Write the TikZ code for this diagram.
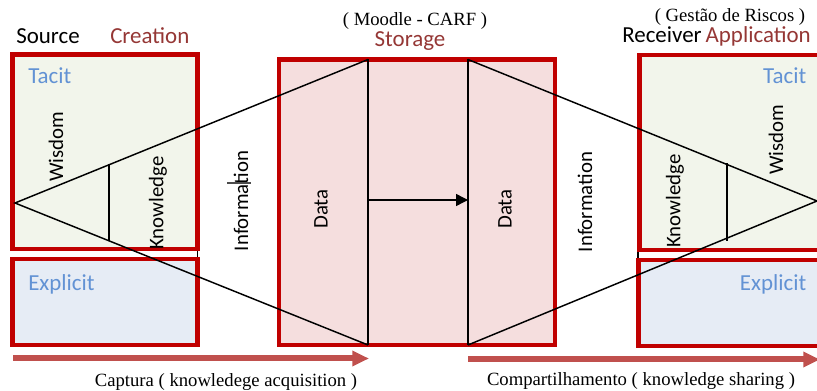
\documentclass[tikz,border=0pt]{standalone}
\usepackage{fontspec}
\setmainfont{Carlito}
\newfontfamily\romanface{Liberation Serif}
\usetikzlibrary{arrows.meta}

\definecolor{boxred}{RGB}{192,0,0}
\definecolor{tacitfill}{RGB}{242,245,235}
\definecolor{explfill}{RGB}{230,236,245}
\definecolor{storefill}{RGB}{245,222,222}
\definecolor{headred}{RGB}{149,55,53}
\definecolor{kindblue}{RGB}{98,146,212}
\definecolor{flowred}{RGB}{192,80,77}

\tikzset{
  frame/.style={draw=boxred, line width=3.6pt},
  pyr/.style={draw=black, line width=1.1pt},
  lbl/.style={font=\fontsize{17.2}{20}\selectfont, inner sep=0pt},
  head/.style={lbl, text=headred},
  kind/.style={lbl, text=kindblue},
  layer/.style={font=\fontsize{15.6}{18}\selectfont, inner sep=0pt, rotate=90},
  caption/.style={font=\romanface\fontsize{14}{16}\selectfont, inner sep=0pt},
  flow/.style={draw=flowred, line width=4.5pt, -{Triangle[length=12.5pt,width=11pt]}},
}

\begin{document}
\begin{tikzpicture}[x=0.75pt,y=-0.75pt]
\useasboundingbox (0,0) rectangle (817,391);
\clip (0,0) rectangle (817,391);

% knowledge boxes (source side)
\draw[frame, fill=tacitfill] (12.5,54.5) rectangle (197.5,249);
\draw[frame, fill=explfill] (12.5,259) rectangle (197.5,345);
% storage
\draw[frame, fill=storefill] (279,59.5) rectangle (555,345);
% knowledge boxes (receiver side)
\draw[frame, fill=tacitfill] (639.5,55) rectangle (840,250);
\draw[frame, fill=explfill] (638.5,260) rectangle (840,346);

% key points of the two pyramids
\coordinate (apexL) at (15,203);
\coordinate (apexR) at (817,201);
\coordinate (st1) at (368,59.5);
\coordinate (sb1) at (368,345);
\coordinate (st2) at (468,59.5);
\coordinate (sb2) at (468,345);
\coordinate (kLt) at (109,164.5);
\coordinate (kLb) at (109,241.5);
\coordinate (kRt) at (727,163.5);
\coordinate (kRb) at (727,241.5);

\draw[pyr] (st1) -- (apexL) -- (sb1);
\draw[pyr] (st2) -- (apexR) -- (sb2);
\draw[pyr] (st1) -- (sb1);
\draw[pyr] (st2) -- (sb2);
\draw[pyr] (kLt) -- (kLb);
\draw[pyr] (kRt) -- (kRb);

% transfer inside the repository
\coordinate (trA) at (368,200);
\coordinate (trB) at (468,200);
\draw[pyr, -{Triangle[length=9pt,width=9pt]}] (trA) -- (trB);

% short joints between tacit and explicit boxes
\coordinate (jL1) at (197.5,251);
\coordinate (jL2) at (197.5,257);
\coordinate (jR1) at (638,252);
\coordinate (jR2) at (638,258);
\draw[black, line width=0.8pt] (jL1) -- (jL2);
\draw[black, line width=0.8pt] (jR1) -- (jR2);

% headings
\node[lbl, anchor=base west] (source) at (16,44) {Source};
\node[head, anchor=base west] (creation) at (110,44) {Creation};
\node[caption, anchor=base] (moodle) at (415,26) {( Moodle - CARF )};
\node[head, anchor=base] (storage) at (410,47) {Storage};
\node[caption, anchor=base] (gestao) at (730,21.5) {( Gestão de Riscos )};
\node[lbl, anchor=base west] (receiver) at (622,42.5) {Receiver};
\node[head, anchor=base east] (application) at (811,42.5) {Application};

% box labels
\node[kind, anchor=base west] (tacitL) at (28,84) {Tacit};
\node[kind, anchor=base west] (explL) at (28,290.5) {Explicit};
\node[kind, anchor=base east] (tacitR) at (806.5,84) {Tacit};
\node[kind, anchor=base east] (explR) at (806.5,290.5) {Explicit};

% pyramid layers
\node[layer] (wisL) at (56,147) {Wisdom};
\node[layer] (knoL) at (158,203) {Knowledge};
\node[layer] (infL) at (241,201) {Information};
\node[layer] (datL) at (321,209) {Data};
\node[layer] (datR) at (505,209) {Data};
\node[layer] (infR) at (585,202) {Information};
\node[layer] (knoR) at (675,201) {Knowledge};
\node[layer] (wisR) at (776,140) {Wisdom};

% stray mark across the left Information label
\coordinate (mk1) at (227,183);
\coordinate (mk2) at (251,183);
\draw[black!70, line width=0.8pt] (mk1) -- (mk2);

% flows
\coordinate (fa1) at (13,358.5);
\coordinate (fa2) at (369,358.5);
\coordinate (fb1) at (468,359.5);
\coordinate (fb2) at (820,359.5);
\draw[flow] (fa1) -- (fa2);
\draw[flow] (fb1) -- (fb2);

\node[caption, anchor=base] (captura) at (226,386.5) {Captura ( knowledege acquisition )};
\node[caption, anchor=base] (compart) at (641,386) {Compartilhamento ( knowledge sharing )};
\end{tikzpicture}
\end{document}
